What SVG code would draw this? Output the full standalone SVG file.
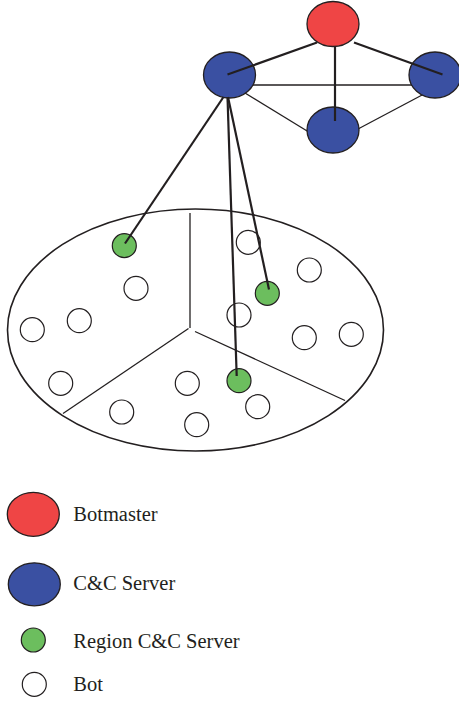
<svg xmlns="http://www.w3.org/2000/svg" width="459" height="701" viewBox="0 0 459 701">
<style>
.red{fill:#EF4545;stroke:#231F20;stroke-width:1.3}
.blue{fill:#3A50A2;stroke:#231F20;stroke-width:1.3}
.green{fill:#6CBE5E;stroke:#231F20;stroke-width:1.2}
.bot{fill:#fff;stroke:#231F20;stroke-width:1.2}
.thick{stroke:#231F20;stroke-width:2.2;fill:none}
.thin{stroke:#231F20;stroke-width:1.3;fill:none}
.lbl{font-family:"Liberation Serif","Times New Roman",serif;font-size:20.5px;fill:#231F20}
</style>
<rect width="459" height="701" fill="#fff"/>
<g id="connectors">
<line class="thin" x1="250" y1="85" x2="415" y2="85"/>
<line class="thin" x1="245" y1="93" x2="312" y2="134"/>
<line class="thin" x1="424" y1="94" x2="358" y2="129"/>
</g>
<g id="botmaster"><ellipse class="red" cx="333" cy="24" rx="26" ry="22.5"/></g>
<g id="cc-left"><ellipse class="blue" cx="229.5" cy="75" rx="26" ry="23"/></g>
<g id="cc-right"><ellipse class="blue" cx="435" cy="75" rx="26" ry="23"/></g>
<g id="cc-bottom"><ellipse class="blue" cx="333" cy="130" rx="26" ry="23"/></g>
<g id="region">
<ellipse cx="195.5" cy="330" rx="188" ry="121" fill="none" stroke="#231F20" stroke-width="1.6"/>
<line class="thin" x1="190" y1="213" x2="190" y2="328"/>
<line class="thin" x1="188.5" y1="328.5" x2="63" y2="413.5"/>
<line class="thin" x1="195" y1="331.5" x2="345" y2="400.5"/>
</g>
<g id="bots">
<circle class="bot" cx="248.3" cy="242.3" r="12"/>
<circle class="bot" cx="309.3" cy="270" r="12"/>
<circle class="bot" cx="136" cy="288.3" r="12"/>
<circle class="bot" cx="79.3" cy="320.7" r="12"/>
<circle class="bot" cx="32.3" cy="329.7" r="12"/>
<circle class="bot" cx="239" cy="315" r="12"/>
<circle class="bot" cx="304.3" cy="337.7" r="12"/>
<circle class="bot" cx="351.3" cy="334.3" r="12"/>
<circle class="bot" cx="60.7" cy="383.3" r="12"/>
<circle class="bot" cx="187.3" cy="383.3" r="12"/>
<circle class="bot" cx="121.7" cy="412" r="12"/>
<circle class="bot" cx="196.7" cy="424.7" r="12"/>
<circle class="bot" cx="257.7" cy="406.7" r="12"/>
</g>
<g id="region-servers">
<circle id="rs1" class="green" cx="124.3" cy="245.7" r="12"/>
<circle id="rs2" class="green" cx="267.3" cy="293.3" r="12"/>
<circle id="rs3" class="green" cx="239" cy="380.7" r="12"/>
</g>
<g id="links">
<line class="thick" x1="317" y1="42.5" x2="227.5" y2="74.5"/>
<line class="thick" x1="354" y1="42.5" x2="442.5" y2="74.5"/>
<line class="thick" x1="335" y1="47" x2="335" y2="121"/>
<line class="thick" x1="223.5" y1="97" x2="125" y2="243.5"/>
<line class="thick" x1="228" y1="97" x2="269" y2="289.5"/>
<line class="thick" x1="227.5" y1="97" x2="236.7" y2="376"/>
</g>
<g id="legend">
<ellipse class="red" cx="33.3" cy="514.3" rx="26" ry="22"/>
<text class="lbl" x="73.3" y="521">Botmaster</text>
<ellipse class="blue" cx="34.3" cy="584.3" rx="26" ry="21.5"/>
<text class="lbl" x="73.3" y="590">C&amp;C Server</text>
<circle class="green" cx="33.3" cy="640" r="12"/>
<text class="lbl" x="73.3" y="647.7">Region C&amp;C Server</text>
<circle class="bot" cx="34.3" cy="684.3" r="12"/>
<text class="lbl" x="73.3" y="691">Bot</text>
</g>
</svg>
